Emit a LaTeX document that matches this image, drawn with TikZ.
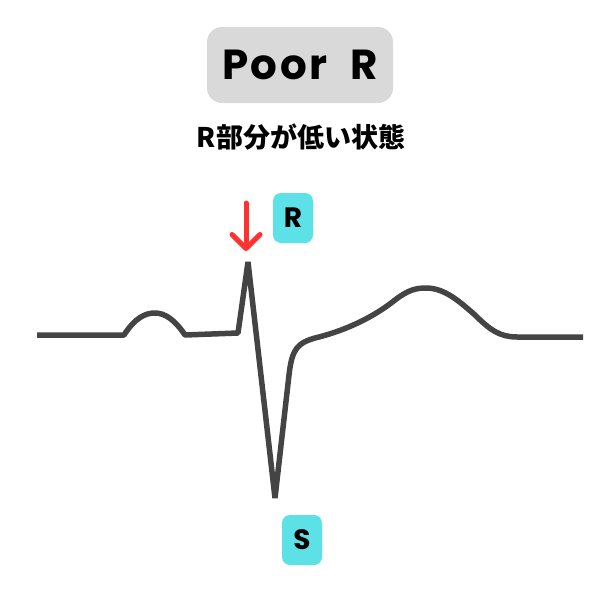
\documentclass[tikz,border=0pt]{standalone}
\usepackage{fontspec}
\setmainfont{Poppins}
\newfontfamily\cjkfont{Noto Sans CJK JP}
\usetikzlibrary{arrows.meta}
\definecolor{wavegray}{HTML}{444444}
\definecolor{boxgray}{HTML}{D9D9D9}
\definecolor{tagcyan}{HTML}{5CE1E6}
\definecolor{arrowred}{HTML}{FF3131}
\tikzset{
  wave/.style={draw=wavegray, line width=5.5pt, line join=bevel},
  tagbox/.style={fill=tagcyan, rounded corners=8pt, minimum width=40pt, minimum height=50pt, inner sep=0pt, font=\fontsize{28}{32}\selectfont\bfseries},
  titlebox/.style={fill=boxgray, rounded corners=15pt, minimum width=186pt, minimum height=76pt, inner sep=0pt, font=\fontsize{42}{48}\selectfont\bfseries\addfontfeatures{LetterSpace=6}},
  marker/.style={draw=arrowred, line width=5pt, line cap=round, -{Straight Barb[length=14pt,width=28pt,round]}}
}
\begin{document}
\begin{tikzpicture}[x=1pt,y=-1pt]
\useasboundingbox (0,0) rectangle (600,600);
\node[titlebox] (title) at (300,65) {Poor\ \ R};
\node[font=\cjkfont\bfseries\fontsize{27}{30}\selectfont] (sub) at (301,137) {R部分が低い状態};
\node[tagbox] (rtag) at (293,218) {R};
\node[tagbox] (stag) at (302,540) {S};
\coordinate (arrowtop) at (246,203);
\coordinate (arrowtip) at (246,251);
\draw[marker] (arrowtop) -- (arrowtip);
\draw[wave] (37,335) -- (124,335)
  .. controls (135,318) and (145,313) .. (155,313)
  .. controls (165,313) and (175,320) .. (185,335)
  -- (238,333) -- (248,262) -- (275,498)
  -- (289,375)
  .. controls (292,348) and (298,343) .. (315,338)
  .. controls (340,332) and (370,320) .. (395,300)
  .. controls (408,290) and (416,288) .. (426,288)
  .. controls (445,288) and (460,302) .. (475,315)
  .. controls (490,330) and (500,337) .. (517,337)
  -- (583,337);
\end{tikzpicture}
\end{document}
